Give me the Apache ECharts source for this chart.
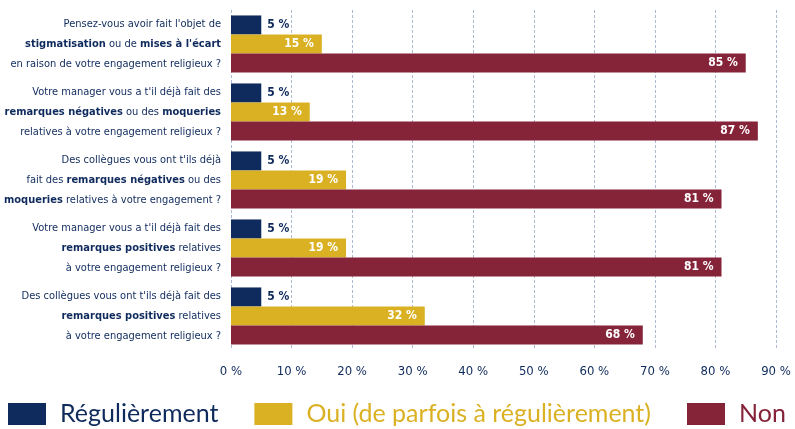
<!DOCTYPE html>
<html>
<head>
<meta charset="utf-8">
<script src="https://cdn.jsdelivr.net/npm/echarts@6/dist/echarts.min.js"></script>
<style>
  html, body { margin: 0; padding: 0; background: #fff; }
  #chart { width: 795px; height: 429px; }
</style>
</head>
<body>
<div id="chart"></div>
<script>
// questions, **bold** parts are emphasised in the label
const questions = [
    "Pensez-vous avoir fait l'objet de\n**stigmatisation** ou de **mises à l'écart**\nen raison de votre engagement religieux ?",
    "Votre manager vous a t'il déjà fait des\n**remarques négatives** ou des **moqueries**\nrelatives à votre engagement religieux ?",
    "Des collègues vous ont t'ils déjà\nfait des **remarques négatives** ou des\n**moqueries** relatives à votre engagement ?",
    "Votre manager vous a t'il déjà fait des\n**remarques positives** relatives\nà votre engagement religieux ?",
    "Des collègues vous ont t'ils déjà fait des\n**remarques positives** relatives\nà votre engagement religieux ?"
];
const seriesNames = ['Régulièrement', 'Oui (de parfois à régulièrement)', 'Non'];
const regulierement = [5, 5, 5, 5, 5];
const oui = [15, 13, 19, 19, 32];
const non = [85, 87, 81, 81, 68];
const xTicks = { min: 0, max: 90, step: 10 };

const NAVY = '#0f2a5c';
const GOLD = '#dbb124';
const WINE = '#852339';
const FONT = '"DejaVu Sans Condensed", sans-serif';

let chart = echarts.init(document.getElementById('chart'));

function barLabel(pos, color, dist) {
    return {
        show: true,
        position: pos,
        distance: dist,
        color: color,
        fontFamily: FONT,
        fontWeight: 'bold',
        fontSize: 12,
        formatter: '{c} %'
    };
}

let option = {
    animation: false,
    grid: { left: 231, right: 19, top: 10, bottom: 79, outerBoundsMode: 'none', containLabel: false },
    legend: {
        top: 401,
        left: 8,
        width: 800,
        padding: 0,
        itemWidth: 38,
        itemHeight: 22,
        itemGap: 36,
        icon: 'rect',
        textStyle: {
            fontFamily: 'Lato, "Noto Sans", sans-serif',
            fontSize: 25,
            lineHeight: 26,
            padding: [0, 0, 0, 9]
        },
        data: [
            { name: seriesNames[0], textStyle: { color: NAVY } },
            { name: seriesNames[1], textStyle: { color: GOLD } },
            { name: seriesNames[2], textStyle: { color: WINE } }
        ]
    },
    xAxis: {
        type: 'value',
        min: xTicks.min,
        max: xTicks.max,
        interval: xTicks.step,
        axisLine: { show: false },
        axisTick: { show: false },
        axisLabel: {
            formatter: '{value} %',
            color: NAVY,
            fontFamily: FONT,
            fontSize: 13,
            margin: 15
        },
        splitLine: {
            show: true,
            lineStyle: { type: [3, 2], color: '#aeb8cf', width: 1 }
        }
    },
    yAxis: {
        type: 'category',
        inverse: true,
        data: questions,
        axisLine: { show: false },
        axisTick: { show: false },
        axisLabel: {
            margin: 10,
            align: 'right',
            color: NAVY,
            fontFamily: FONT,
            fontSize: 11,
            lineHeight: 20,
            formatter: function(v) {
                return v.replace(/\*\*(.+?)\*\*/g, '{b|$1}');
            },
            rich: {
                b: { fontWeight: 'bold', color: NAVY, fontFamily: FONT, fontSize: 11, lineHeight: 20 }
            }
        }
    },
    series: [{
        name: seriesNames[0],
        type: 'bar',
        data: regulierement,
        itemStyle: { color: NAVY },
        barGap: 0,
        barCategoryGap: '16%',
        label: barLabel('right', NAVY, 6)
    }, {
        name: seriesNames[1],
        type: 'bar',
        data: oui,
        itemStyle: { color: GOLD },
        barGap: 0,
        barCategoryGap: '16%',
        label: barLabel('insideRight', '#fff', 8)
    }, {
        name: seriesNames[2],
        type: 'bar',
        data: non,
        itemStyle: { color: WINE },
        barGap: 0,
        barCategoryGap: '16%',
        label: barLabel('insideRight', '#fff', 8)
    }]
};

chart.setOption(option);
</script>
</body>
</html>
